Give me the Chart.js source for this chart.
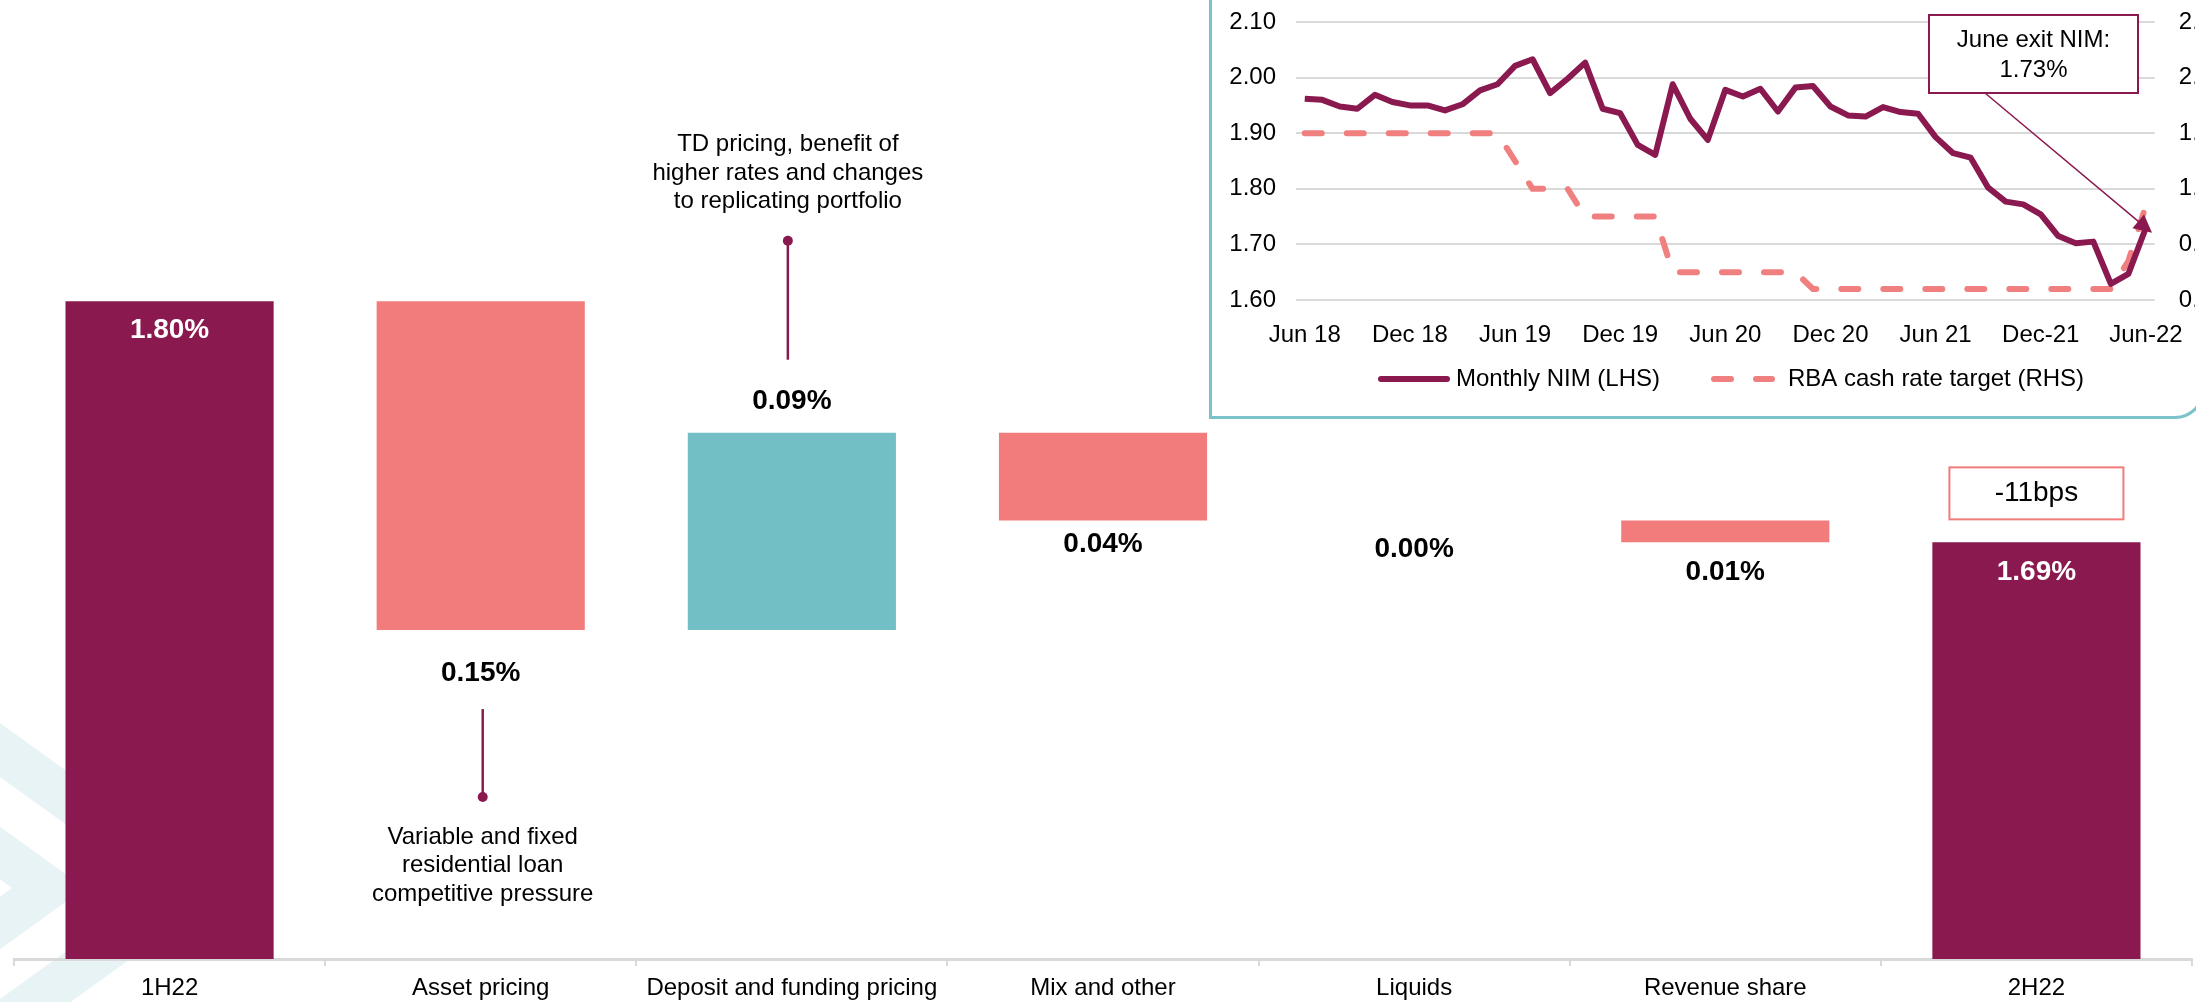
<!DOCTYPE html>
<html>
<head>
<meta charset="utf-8">
<script src="https://cdn.jsdelivr.net/npm/chart.js@4.4.1/dist/chart.umd.min.js"></script>
<style>
  html, body { margin: 0; padding: 0; background: #fff; overflow: hidden; }
  body { width: 2196px; height: 1002px; position: relative; }
  #main { position: absolute; left: 0; top: 0; }
  #insetBox {
    position: absolute; left: 1209px; top: -40px; width: 996px; height: 459px;
    box-sizing: border-box; border: 3px solid #7AC3CA; border-radius: 0 0 30px 0;
    background: #fff;
  }
  #inset { position: absolute; left: 1212px; top: 0; }
</style>
</head>
<body>
<canvas id="main" width="2196" height="1002"></canvas>
<div id="insetBox"></div>
<canvas id="inset" width="984" height="414"></canvas>
<script>
// waterfall
const categories = ['1H22', 'Asset pricing', 'Deposit and funding pricing', 'Mix and other', 'Liquids', 'Revenue share', '2H22'];
const barLow = [1.50, 1.65, 1.65, 1.70, 1.70, 1.69, 1.50];
const barHigh = [1.80, 1.80, 1.74, 1.74, 1.70, 1.70, 1.69];
const valueLabels = ['1.80%', '0.15%', '0.09%', '0.04%', '0.00%', '0.01%', '1.69%'];
const totalLabel = '-11bps';

// inset: monthly NIM vs RBA cash rate
const months = ['Jun 18', 'Jul 18', 'Aug 18', 'Sep 18', 'Oct 18', 'Nov 18', 'Dec 18', 'Jan 19', 'Feb 19', 'Mar 19', 'Apr 19', 'May 19',
  'Jun 19', 'Jul 19', 'Aug 19', 'Sep 19', 'Oct 19', 'Nov 19', 'Dec 19', 'Jan 20', 'Feb 20', 'Mar 20', 'Apr 20', 'May 20',
  'Jun 20', 'Jul 20', 'Aug 20', 'Sep 20', 'Oct 20', 'Nov 20', 'Dec 20', 'Jan 21', 'Feb 21', 'Mar 21', 'Apr 21', 'May 21',
  'Jun 21', 'Jul 21', 'Aug 21', 'Sep 21', 'Oct 21', 'Nov 21', 'Dec 21', 'Jan 22', 'Feb 22', 'Mar 22', 'Apr 22', 'May 22', 'Jun 22'];
const monthTicks = ['Jun 18', 'Dec 18', 'Jun 19', 'Dec 19', 'Jun 20', 'Dec 20', 'Jun 21', 'Dec-21', 'Jun-22'];
const nimValues = [1.962, 1.960, 1.948, 1.944, 1.969, 1.956, 1.950, 1.950, 1.941, 1.952, 1.977, 1.988,
  2.021, 2.033, 1.972, 1.998, 2.027, 1.944, 1.936, 1.879, 1.861, 1.988, 1.926, 1.888,
  1.978, 1.966, 1.980, 1.939, 1.982, 1.985, 1.948, 1.932, 1.930, 1.947, 1.938, 1.935,
  1.893, 1.864, 1.856, 1.802, 1.777, 1.772, 1.754, 1.715, 1.702, 1.705, 1.629, 1.647, 1.730];
const cashRate = [1.50, 1.50, 1.50, 1.50, 1.50, 1.50, 1.50, 1.50, 1.50, 1.50, 1.50, 1.50,
  1.25, 1.00, 1.00, 1.00, 0.75, 0.75, 0.75, 0.75, 0.75, 0.25, 0.25, 0.25,
  0.25, 0.25, 0.25, 0.25, 0.25, 0.10, 0.10, 0.10, 0.10, 0.10, 0.10, 0.10,
  0.10, 0.10, 0.10, 0.10, 0.10, 0.10, 0.10, 0.10, 0.10, 0.10, 0.10, 0.35, 0.85];
const exitNote = ['June exit NIM:', '1.73%'];

const MAROON = '#8A194F';
const SALMON = '#F17C7B';
const TEAL = '#73BFC6';
const FONT = "'Liberation Sans', Arial, sans-serif";

Chart.defaults.font.family = FONT;
Chart.defaults.color = '#000';

// work out which bars are totals, rises or falls from the running level
const barKind = [];
let level = null;
barLow.forEach((lo, i) => {
  if (i === 0 || i === barLow.length - 1) { barKind.push('total'); level = barHigh[i]; return; }
  if (barHigh[i] > lo && Math.abs(lo - level) < 1e-6) { barKind.push('up'); level = barHigh[i]; }
  else { barKind.push('down'); level = lo; }
});
const barColors = barKind.map(k => (k === 'total' ? MAROON : k === 'up' ? TEAL : SALMON));

// faint chevrons of the slide background
const backdrop = {
  id: 'backdrop',
  beforeDraw(chart) {
    const c = chart.ctx;
    const cy = 888, s = 0.72, far = -300;
    c.save();
    c.fillStyle = 'rgb(232,243,246)';
    [[229, 154], [85, 12]].forEach(([outer, inner]) => {
      c.beginPath();
      c.moveTo(far, cy - s * (outer - far));
      c.lineTo(outer, cy);
      c.lineTo(far, cy + s * (outer - far));
      c.lineTo(far, cy + s * (inner - far));
      c.lineTo(inner, cy);
      c.lineTo(far, cy - s * (inner - far));
      c.closePath();
      c.fill();
    });
    c.restore();
  }
};

const waterfallLabels = {
  id: 'waterfallLabels',
  afterDatasetsDraw(chart) {
    const c = chart.ctx;
    const bars = chart.getDatasetMeta(0).data;
    const gap = [29, 43, 31, 24, 29, 30, 30];
    c.save();
    c.textAlign = 'center';
    c.textBaseline = 'middle';
    c.font = 'bold 28px ' + FONT;
    bars.forEach((b, i) => {
      const top = Math.min(b.y, b.base), bottom = Math.max(b.y, b.base);
      let y;
      if (barKind[i] === 'total') {
        c.fillStyle = '#fff';
        y = top + gap[i];
      } else if (barKind[i] === 'up') {
        c.fillStyle = '#000';
        y = top - gap[i];
      } else {
        c.fillStyle = '#000';
        y = bottom + gap[i];
      }
      c.fillText(valueLabels[i], b.x, y);
    });

    // -11bps box above the closing bar
    const last = bars[bars.length - 1];
    const lt = Math.min(last.y, last.base);
    c.strokeStyle = SALMON;
    c.lineWidth = 2;
    c.fillStyle = '#fff';
    c.fillRect(last.x - 87, lt - 75, 174, 52);
    c.strokeRect(last.x - 87, lt - 75, 174, 52);
    c.fillStyle = '#000';
    c.font = '28px ' + FONT;
    c.fillText(totalLabel, last.x, lt - 49);

    // call-outs
    c.font = '24px ' + FONT;
    const callout = (x, lineFrom, dotY, lines, textY) => {
      c.strokeStyle = MAROON;
      c.fillStyle = MAROON;
      c.lineWidth = 2.5;
      c.beginPath();
      c.moveTo(x, lineFrom);
      c.lineTo(x, dotY);
      c.stroke();
      c.beginPath();
      c.arc(x, dotY, 5, 0, Math.PI * 2);
      c.fill();
      c.fillStyle = '#000';
      lines.forEach((t, k) => c.fillText(t, x, textY + k * 28.5));
    };
    const ab = bars[1], db = bars[2];
    const abBottom = Math.max(ab.y, ab.base);
    callout(ab.x + 2, abBottom + 79, abBottom + 167,
      ['Variable and fixed', 'residential loan', 'competitive pressure'], abBottom + 207);
    const dbTop = Math.min(db.y, db.base);
    callout(db.x - 4, dbTop - 73, dbTop - 192,
      ['TD pricing, benefit of', 'higher rates and changes', 'to replicating portfolio'], dbTop - 288);
    c.restore();
  }
};

new Chart(document.getElementById('main'), {
  type: 'bar',
  data: {
    labels: categories,
    datasets: [{
      data: categories.map((_, i) => [barLow[i], barHigh[i]]),
      backgroundColor: barColors,
      borderWidth: 0,
      categoryPercentage: 1,
      barPercentage: 0.669
    }]
  },
  options: {
    responsive: false,
    animation: false,
    devicePixelRatio: 1,
    layout: { padding: { left: 14, right: 4, top: 38, bottom: 0 } },
    scales: {
      x: {
        grid: { drawOnChartArea: false, color: '#D9D9D9', lineWidth: 2, tickLength: 7 },
        border: { color: '#D9D9D9', width: 3 },
        ticks: { font: { size: 24 }, color: '#000', padding: 8, maxRotation: 0, autoSkip: false },
        afterFit: (s) => { s.height = 43; }
      },
      y: { display: false, min: 1.5, max: 1.92 }
    },
    plugins: { legend: { display: false }, tooltip: { enabled: false } }
  },
  plugins: [backdrop, waterfallLabels]
});

// inset extras: callout box, arrow and legend
const insetDecor = {
  id: 'insetDecor',
  afterDraw(chart) {
    const c = chart.ctx;
    const meta = chart.getDatasetMeta(0);
    const p = meta.data[meta.data.length - 1];
    c.save();
    // box
    const bx = 717, by = 15, bw = 209, bh = 78;
    c.fillStyle = '#fff';
    c.fillRect(bx, by, bw, bh);
    c.strokeStyle = MAROON;
    c.lineWidth = 2;
    c.strokeRect(bx, by, bw, bh);
    c.fillStyle = '#000';
    c.font = '24px ' + FONT;
    c.textAlign = 'center';
    c.textBaseline = 'middle';
    c.fillText(exitNote[0], bx + bw / 2, 40);
    c.fillText(exitNote[1], bx + bw / 2, 70);
    // arrow
    const sx = 773, sy = by + bh;
    let dx = p.x - sx, dy = p.y - sy;
    const len = Math.hypot(dx, dy);
    dx /= len; dy /= len;
    const tx = p.x + dx * 8, ty = p.y + dy * 8;
    c.strokeStyle = MAROON;
    c.fillStyle = MAROON;
    c.lineWidth = 1.5;
    c.beginPath();
    c.moveTo(sx, sy);
    c.lineTo(tx - dx * 14, ty - dy * 14);
    c.stroke();
    c.beginPath();
    c.moveTo(tx, ty);
    c.lineTo(tx - dx * 18 - dy * 9, ty - dy * 18 + dx * 9);
    c.lineTo(tx - dx * 18 + dy * 9, ty - dy * 18 - dx * 9);
    c.closePath();
    c.fill();
    // legend
    const ly = 379;
    c.lineCap = 'round';
    c.lineWidth = 6;
    c.beginPath();
    c.moveTo(169, ly);
    c.lineTo(235, ly);
    c.stroke();
    c.strokeStyle = '#F08080';
    c.beginPath();
    c.moveTo(502, ly); c.lineTo(519, ly);
    c.moveTo(544, ly); c.lineTo(560, ly);
    c.stroke();
    c.fillStyle = '#000';
    c.textAlign = 'left';
    c.fillText('Monthly NIM (LHS)', 244, ly);
    c.fillText('RBA cash rate target (RHS)', 576, ly);
    c.restore();
  }
};

// drop the label half-height padding Chart.js reserves above/below vertical axes
const noVertPad = (s, w) => { s.width = w; s.paddingTop = 0; s.paddingBottom = 0; };

new Chart(document.getElementById('inset'), {
  type: 'line',
  data: {
    labels: months,
    datasets: [{
      label: 'Monthly NIM (LHS)',
      data: nimValues,
      yAxisID: 'y',
      borderColor: MAROON,
      borderWidth: 6,
      borderJoinStyle: 'round',
      pointRadius: 0,
      tension: 0
    }, {
      label: 'RBA cash rate target (RHS)',
      data: cashRate,
      yAxisID: 'y1',
      borderColor: '#F08080',
      borderWidth: 6,
      borderDash: [17, 25],
      borderCapStyle: 'round',
      pointRadius: 0,
      tension: 0
    }]
  },
  options: {
    responsive: false,
    animation: false,
    devicePixelRatio: 1,
    layout: { padding: { left: 0, right: 0, top: 22, bottom: 0 } },
    scales: {
      x: {
        offset: true,
        grid: { display: false },
        border: { display: false },
        ticks: {
          autoSkip: false, maxRotation: 0, padding: 13, font: { size: 24 }, color: '#000',
          callback: (v, i) => (i % 6 === 0 ? monthTicks[i / 6] : '')
        },
        afterFit: (s) => { s.height = 114; }
      },
      y: {
        position: 'left', min: 1.6, max: 2.1,
        grid: { color: '#D9D9D9', lineWidth: 2, drawTicks: false },
        border: { display: false },
        ticks: { stepSize: 0.1, padding: 20, font: { size: 24 }, color: '#000', callback: (v) => v.toFixed(2) },
        afterFit: (s) => noVertPad(s, 84)
      },
      y1: {
        position: 'right', min: 0, max: 2.5,
        grid: { display: false },
        border: { display: false },
        ticks: { stepSize: 0.5, padding: 16, font: { size: 24 }, color: '#000', callback: (v) => v.toFixed(2) },
        afterFit: (s) => noVertPad(s, 40)
      }
    },
    plugins: { legend: { display: false }, tooltip: { enabled: false } }
  },
  plugins: [insetDecor]
});
</script>
</body>
</html>
